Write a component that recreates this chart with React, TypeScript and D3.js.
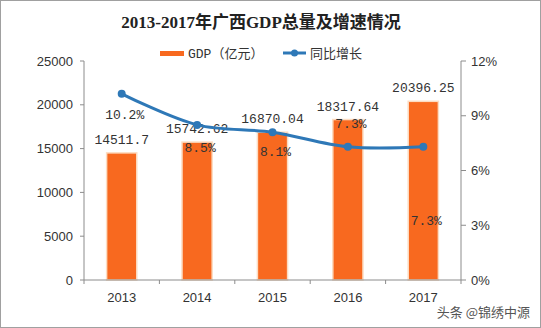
import React from "react";
import * as d3 from "d3";

const years = ["2013", "2014", "2015", "2016", "2017"];
const gdp = [14511.7, 15742.62, 16870.04, 18317.64, 20396.25];
const gdpLabels = ["14511.7", "15742.62", "16870.04", "18317.64", "20396.25"];
const growth = [10.2, 8.5, 8.1, 7.3, 7.3];
const growthLabels = ["10.2%", "8.5%", "8.1%", "7.3%", "7.3%"];
// vertical offset of the growth label relative to its point (px)
const growthLabelDy = [25, 27, 24, -19, 78];
const leftTicks = [0, 5000, 10000, 15000, 20000, 25000];
const rightTicks = [0, 3, 6, 9, 12];

const W = 541, H = 328;
const M = { left: 84, right: 461, top: 61, bottom: 280 };

export default function App() {
  const x = d3.scaleBand<string>().domain(years).range([M.left, M.right]).paddingInner(0.6).paddingOuter(0.3);
  const xc = (d: string) => (x(d) as number) + x.bandwidth() / 2;
  const yL = d3.scaleLinear().domain([0, 25000]).range([M.bottom, M.top]);
  const yR = d3.scaleLinear().domain([0, 12]).range([M.bottom, M.top]);
  const step = (M.right - M.left) / years.length;
  const line = d3
    .line<number>()
    .x((_, i) => xc(years[i]))
    .y((d) => yR(d))
    .curve(d3.curveCatmullRom.alpha(0.5));

  const orange = "#F8691F";
  const blue = "#2E78B7";
  const axisColor = "#8c8c8c";
  const textColor = "#333";
  const mono = "'Liberation Mono', 'DejaVu Sans Mono', monospace";
  const sans = "'Liberation Sans', Arial, sans-serif";

  return (
    <svg width={W} height={H} style={{ position: "absolute", left: 0, top: 0, background: "#fff" }}>
      <rect x={0.5} y={0.5} width={W - 1} height={H - 1} fill="#fff" stroke="#a0a0a0" />
      <text x={261} y={28} textAnchor="middle" fontSize={17} fontWeight="bold" fill="#222"
        fontFamily="'Liberation Serif', 'Noto Sans CJK SC', serif">
        2013-2017年广西GDP总量及增速情况
      </text>

      {/* legend */}
      <rect x={160} y={51} width={24} height={5} fill={orange} />
      <text x={188} y={58} fontSize={13} fill={textColor} fontFamily={`${mono}, 'Noto Sans CJK SC'`}>GDP（亿元）</text>
      <line x1={283} x2={306} y1={53} y2={53} stroke={blue} strokeWidth={3} />
      <circle cx={294.5} cy={53} r={3.5} fill={blue} />
      <text x={310} y={58} fontSize={13} fill={textColor} fontFamily="'Noto Sans CJK SC'">同比增长</text>

      {/* bars */}
      {years.map((yr, i) => (
        <rect key={yr} x={x(yr)} y={yL(gdp[i])} width={x.bandwidth()} height={M.bottom - yL(gdp[i])}
          fill={orange} stroke="#FCDCC2" strokeWidth={1.5} />
      ))}

      {/* axes */}
      <line x1={M.left} x2={M.left} y1={M.top} y2={M.bottom} stroke={axisColor} />
      {leftTicks.map((t) => (
        <g key={t}>
          <line x1={M.left - 4} x2={M.left} y1={yL(t)} y2={yL(t)} stroke={axisColor} />
          <text x={M.left - 11} y={yL(t) + 4.5} textAnchor="end" fontSize={13} fill={textColor} fontFamily={sans}>{t}</text>
        </g>
      ))}
      <line x1={M.right} x2={M.right} y1={M.top} y2={M.bottom} stroke={axisColor} />
      {rightTicks.map((t) => (
        <g key={t}>
          <line x1={M.right} x2={M.right + 5} y1={yR(t)} y2={yR(t)} stroke={axisColor} />
          <text x={M.right + 10} y={yR(t) + 4.5} fontSize={13} fill={textColor} fontFamily={sans}>{t}%</text>
        </g>
      ))}
      <line x1={M.left} x2={M.right} y1={M.bottom} y2={M.bottom} stroke={axisColor} />
      {d3.range(years.length + 1).map((i) => (
        <line key={i} x1={M.left + i * step} x2={M.left + i * step} y1={M.bottom} y2={M.bottom + 4} stroke={axisColor} />
      ))}
      {years.map((yr) => (
        <text key={yr} x={xc(yr)} y={M.bottom + 22} textAnchor="middle" fontSize={13} fill={textColor} fontFamily={sans}>{yr}</text>
      ))}

      {/* GDP labels */}
      {years.map((yr, i) => (
        <text key={yr} x={xc(yr)} y={yL(gdp[i]) - 9} textAnchor="middle" fontSize={13} fill={textColor} fontFamily={mono}>{gdpLabels[i]}</text>
      ))}

      {/* line */}
      <path d={line(growth) as string} fill="none" stroke={blue} strokeWidth={3} />
      {years.map((yr, i) => (
        <circle key={yr} cx={xc(yr)} cy={yR(growth[i])} r={4} fill={blue} />
      ))}
      {years.map((yr, i) => (
        <text key={yr} x={xc(yr) + 3} y={yR(growth[i]) + growthLabelDy[i]} textAnchor="middle" fontSize={13} fill={textColor} fontFamily={mono}>{growthLabels[i]}</text>
      ))}

      <text x={530} y={317} textAnchor="end" fontSize={13} fill="#555" fontFamily="'Noto Sans CJK SC'">头条 @锦绣中源</text>
    </svg>
  );
}
